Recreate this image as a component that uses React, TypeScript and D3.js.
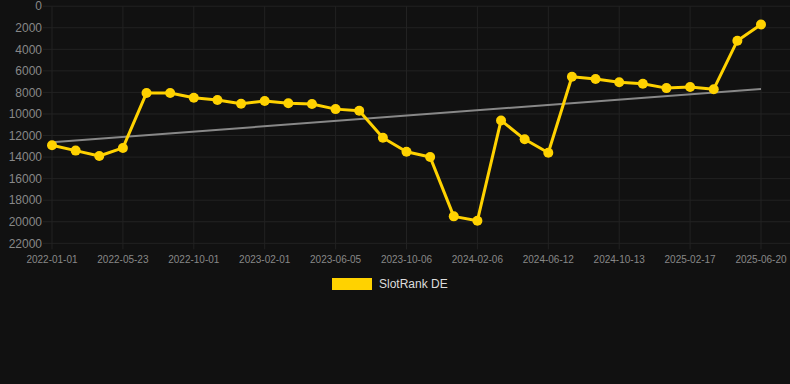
import React, { useEffect, useRef } from "react";
import * as d3 from "d3";

const dates = [
  "2022-01-01", "2022-02-17", "2022-04-05", "2022-05-23", "2022-07-05", "2022-08-18",
  "2022-10-01", "2022-11-11", "2022-12-22", "2023-02-01", "2023-03-14", "2023-04-25",
  "2023-06-05", "2023-07-16", "2023-08-26", "2023-10-06", "2023-11-16", "2023-12-27",
  "2024-02-06", "2024-03-18", "2024-05-01", "2024-06-12", "2024-07-23", "2024-09-02",
  "2024-10-13", "2024-11-25", "2025-01-06", "2025-02-17", "2025-03-30", "2025-05-10",
  "2025-06-20",
];

const ranks = [
  12900, 13400, 13900, 13150, 8050, 8050, 8500, 8700, 9050, 8800, 9000, 9075,
  9550, 9700, 12200, 13500, 14000, 19500, 19900, 10600, 12350, 13600, 6550, 6750,
  7050, 7200, 7600, 7500, 7700, 3200, 1700,
];

// trend line values at first and last date
const trend = [12630, 7680];

const yTicks = d3.range(0, 22001, 2000);
const seriesName = "SlotRank DE";

const width = 790;
const height = 384;

const App: React.FC = () => {
  const ref = useRef<SVGSVGElement>(null);

  useEffect(() => {
    document.body.style.margin = "0";
    const svg = d3.select(ref.current);
    svg.selectAll("*").remove();

    svg.append("rect").attr("width", width).attr("height", height).attr("fill", "#111111");

    const x = d3.scalePoint<string>().domain(dates).range([52, 761]);
    const y = d3.scaleLinear().domain([0, 22000]).range([6.2, 243.3]);

    const grid = svg.append("g");
    grid.selectAll("line.h")
      .data(yTicks)
      .join("line")
      .attr("class", "h")
      .attr("x1", 43)
      .attr("x2", width)
      .attr("y1", (d) => y(d))
      .attr("y2", (d) => y(d))
      .attr("stroke", "#222")
      .attr("stroke-width", 1);

    const labelled = dates.filter((_, i) => i % 3 === 0);
    grid.selectAll("line.v")
      .data(labelled)
      .join("line")
      .attr("class", "v")
      .attr("x1", (d) => x(d)!)
      .attr("x2", (d) => x(d)!)
      .attr("y1", y(0))
      .attr("y2", y(22000) + 6)
      .attr("stroke", "#222")
      .attr("stroke-width", 1);

    svg.append("g")
      .selectAll("text")
      .data(yTicks)
      .join("text")
      .attr("x", 42)
      .attr("y", (d) => y(d))
      .attr("dy", "0.35em")
      .attr("text-anchor", "end")
      .attr("fill", "#888")
      .attr("font-family", "Arial, Liberation Sans, sans-serif")
      .attr("font-size", 12)
      .text((d) => String(d));

    svg.append("g")
      .selectAll("text")
      .data(labelled)
      .join("text")
      .attr("x", (d) => x(d)!)
      .attr("y", 259)
      .attr("dy", "0.35em")
      .attr("text-anchor", "middle")
      .attr("fill", "#888")
      .attr("font-family", "Arial, Liberation Sans, sans-serif")
      .attr("font-size", 10)
      .text((d) => d);

    // trend
    const trendPts: [number, number][] = [
      [x(dates[0])!, y(trend[0])],
      [x(dates[dates.length - 1])!, y(trend[1])],
    ];
    svg.append("path")
      .attr("d", d3.line()(trendPts))
      .attr("stroke", "#888")
      .attr("stroke-width", 2)
      .attr("fill", "none");

    const line = d3.line<number>()
      .x((_, i) => x(dates[i])!)
      .y((d) => y(d));

    svg.append("path")
      .datum(ranks)
      .attr("d", line)
      .attr("stroke", "#FFD200")
      .attr("stroke-width", 3)
      .attr("stroke-linejoin", "round")
      .attr("fill", "none");

    svg.append("g")
      .selectAll("circle")
      .data(ranks)
      .join("circle")
      .attr("cx", (_, i) => x(dates[i])!)
      .attr("cy", (d) => y(d))
      .attr("r", 5)
      .attr("fill", "#FFD200");

    const legend = svg.append("g");
    legend.append("rect")
      .attr("x", 332)
      .attr("y", 278)
      .attr("width", 40)
      .attr("height", 12)
      .attr("fill", "#FFD200");
    legend.append("text")
      .attr("x", 379)
      .attr("y", 284)
      .attr("dy", "0.35em")
      .attr("fill", "#ddd")
      .attr("font-family", "Arial, Liberation Sans, sans-serif")
      .attr("font-size", 12)
      .text(seriesName);
  }, []);

  return <svg ref={ref} width={width} height={height} style={{ display: "block" }}></svg>;
};

export default App;
